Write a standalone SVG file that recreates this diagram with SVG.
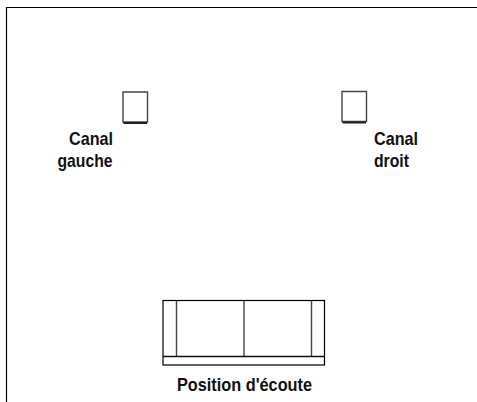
<svg xmlns="http://www.w3.org/2000/svg" width="477" height="402" viewBox="0 0 477 402">
<style>
.l{fill:none;stroke:#000;stroke-width:1.2}
.f{fill:none;stroke:#444;stroke-width:1.4}
text{font-family:"Liberation Sans",Arial,sans-serif;font-weight:bold;font-size:18.500px;fill:#111;text-anchor:start}
</style>
<rect width="477" height="402" fill="#fff"/>
<g id="frame"><path d="M477 7.500H6.500V402" fill="none" stroke="#000" stroke-width="1.2"/></g>
<g id="speaker-left">
<path class="f" d="M123 92H147.500V122H123Z"/>
<path d="M123.500 123H147" stroke="#222" stroke-width="2" fill="none"/>
<text x="69" y="144.500" textLength="44" lengthAdjust="spacingAndGlyphs">Canal</text>
<text x="57.500" y="166.500" textLength="55" lengthAdjust="spacingAndGlyphs">gauche</text>
</g>
<g id="speaker-right">
<path class="f" d="M342 91.500H366.500V121.500H342Z"/>
<path d="M342.500 122.500H366" stroke="#222" stroke-width="2" fill="none"/>
<text x="374" y="144.500" textLength="44" lengthAdjust="spacingAndGlyphs">Canal</text>
<text x="374" y="166.500" textLength="35" lengthAdjust="spacingAndGlyphs">droit</text>
</g>
<g id="sofa">
<rect class="l" x="163" y="300.500" width="161.500" height="64.500"/>
<path class="f" d="M176.500 301V356M244 301V356M311.500 301V356"/>
<path d="M163 356.500H325" stroke="#111" stroke-width="1.4" fill="none"/>
<text x="177" y="391" textLength="135" lengthAdjust="spacingAndGlyphs">Position d'écoute</text>
</g>
</svg>
